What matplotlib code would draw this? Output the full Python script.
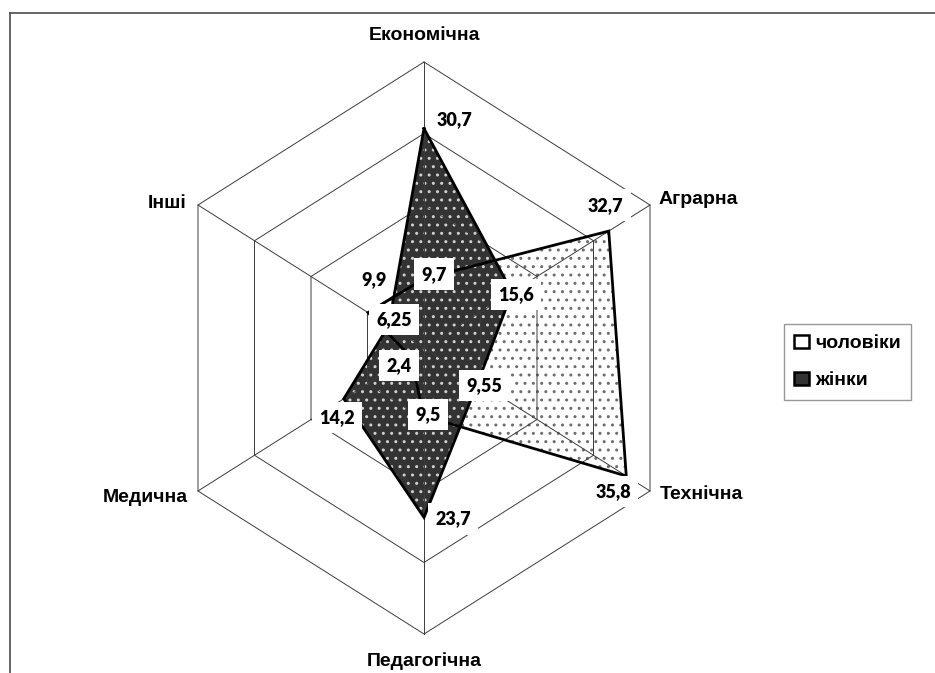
import numpy as np
import matplotlib
matplotlib.use("Agg")
import matplotlib.pyplot as plt
from matplotlib.patches import Patch
from matplotlib.lines import Line2D

# data
categories = ['Економічна', 'Аграрна', 'Технічна', 'Педагогічна', 'Медична', 'Інші']
men = [9.7, 32.7, 35.8, 9.5, 2.4, 9.9]
women = [30.7, 15.6, 9.55, 23.7, 14.2, 6.25]
men_label = 'чоловіки'
women_label = 'жінки'
rings = [10, 20, 30, 40]

# label offsets in pixels (x right, y up)
men_off = [(10, 4.5), (-3, 26), (-13, -15.5), (4, 1.5), (-11.5, -9), (5.5, 33.5)]
women_off = [(30, 9), (4, -2.5), (6.5, -3.5), (29, -1.5), (-6.5, -18.5), (5.5, 6)]
cat_off = [(0, 26, 'center'), (9, 5, 'left'), (10, -4, 'left'),
           (0, -27, 'center'), (-10, -6, 'right'), (-12, 2, 'right')]

W, H = 935, 673
fig = plt.figure(figsize=(W / 100, H / 100), dpi=100)
ax = fig.add_axes([0, 0, 1, 1])
ax.axis('off')

# centre of the radar in pixels and scale per unit (chart is squeezed horizontally)
cx, cy = 424, 325
kx, ky = 6.524, 7.15
ax.set_xlim(-cx / kx, (W - cx) / kx)
ax.set_ylim(-cy / ky, (H - cy) / ky)

ang = np.deg2rad(np.arange(len(categories)) * 60)


def xy(vals):
    v = np.asarray(vals, dtype=float)
    x = v * np.sin(ang)
    y = v * np.cos(ang)
    return np.append(x, x[0]), np.append(y, y[0])


dark = '#333333'
gridc = '#3c3c3c'
narrow = ['Liberation Sans Narrow', 'Liberation Sans', 'DejaVu Sans']

# fills
mx, my = xy(men)
wx, wy = xy(women)
ax.fill(mx, my, facecolor='white', edgecolor='#6e6e6e', hatch='..', linewidth=0, zorder=1)
ax.fill(wx, wy, facecolor=dark, edgecolor='#d0d0d0', hatch='..', linewidth=0, zorder=2)

# grid
for r in rings:
    gx, gy = xy([r] * len(categories))
    ax.plot(gx, gy, color=gridc, lw=0.7, zorder=3)
for a in ang:
    ax.plot([0, rings[-1] * np.sin(a)], [0, rings[-1] * np.cos(a)], color=gridc, lw=0.7, zorder=3)

# outlines
ax.plot(mx, my, color='black', lw=2.0, zorder=4, solid_joinstyle='miter')
ax.plot(wx, wy, color='black', lw=2.0, zorder=4, solid_joinstyle='miter')

# data labels
box = dict(boxstyle='square,pad=0.4', facecolor='white', edgecolor='none')
for vals, offs in [(men, men_off), (women, women_off)]:
    px, py = xy(vals)
    for i, v in enumerate(vals):
        txt = ('%g' % v).replace('.', ',')
        ax.annotate(txt, (px[i], py[i]), xytext=offs[i], textcoords='offset pixels',
                    ha='center', va='center', fontsize=13, fontweight='heavy',
                    family=['Lato', 'DejaVu Sans'], bbox=box, zorder=6)

# category labels
ox, oy = xy([rings[-1]] * len(categories))
for i, c in enumerate(categories):
    dx, dy, ha = cat_off[i]
    ax.annotate(c, (ox[i], oy[i]), xytext=(dx, dy), textcoords='offset pixels',
                ha=ha, va='center', fontsize=14, fontweight='bold',
                family=narrow, zorder=6)

# legend
handles = [Patch(facecolor='white', edgecolor='black', linewidth=1.8),
           Patch(facecolor=dark, edgecolor='black', linewidth=1.8)]
leg = fig.legend(handles, [men_label, women_label], loc='center',
                 bbox_to_anchor=(847.5 / W, 1 - 362 / H),
                 prop={'family': narrow, 'weight': 'bold', 'size': 14},
                 frameon=True, fancybox=False, borderpad=0.55, labelspacing=1.0,
                 handlelength=0.75, handleheight=0.7, handletextpad=0.3)
leg.get_frame().set_edgecolor('#7f7f7f')
leg.get_frame().set_linewidth(1.0)

# chart area border (only top and left visible)
fig.add_artist(Line2D([10 / W, 10 / W], [0, 1 - 13 / H], transform=fig.transFigure,
                      color='#595959', lw=1.3))
fig.add_artist(Line2D([10 / W, 1], [1 - 13 / H, 1 - 13 / H], transform=fig.transFigure,
                      color='#595959', lw=1.3))

fig.savefig('out.png', dpi=100, facecolor='white')
